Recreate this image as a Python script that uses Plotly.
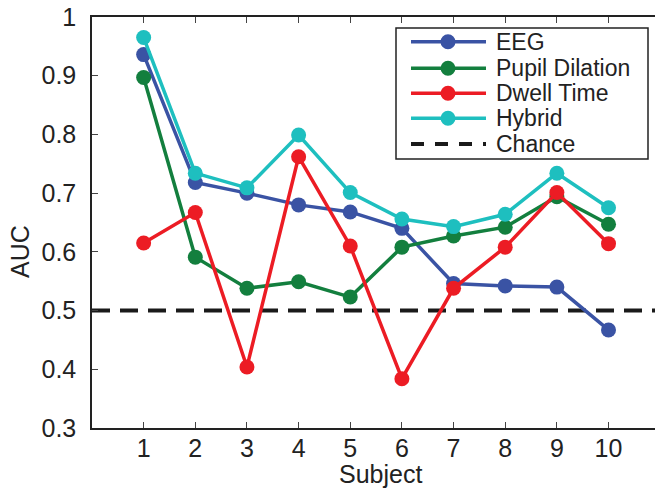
import plotly.graph_objects as go

subjects = [1, 2, 3, 4, 5, 6, 7, 8, 9, 10]
eeg = [0.936, 0.718, 0.700, 0.680, 0.668, 0.640, 0.546, 0.542, 0.540, 0.467]
pupil = [0.897, 0.591, 0.538, 0.549, 0.523, 0.608, 0.627, 0.642, 0.694, 0.647]
dwell = [0.615, 0.667, 0.404, 0.762, 0.610, 0.384, 0.538, 0.608, 0.701, 0.614]
hybrid = [0.965, 0.734, 0.709, 0.799, 0.701, 0.656, 0.643, 0.664, 0.734, 0.675]
chance = 0.5
x_range = [0, 10.9]
y_ticks = [0.3, 0.4, 0.5, 0.6, 0.7, 0.8, 0.9, 1.0]
y_ticktext = ["0.3", "0.4", "0.5", "0.6", "0.7", "0.8", "0.9", "1"]
x_title = "Subject"
y_title = "AUC"

series = [
    ("EEG", eeg, "#3A53A4"),
    ("Pupil Dilation", pupil, "#137F3E"),
    ("Dwell Time", dwell, "#EC1C24"),
    ("Hybrid", hybrid, "#1EBFBF"),
]
CHANCE_COLOR = "#1a1a1a"

FONT = "Liberation Sans, Arial, Helvetica, sans-serif"
W, H = 655, 489
ML, MR, MT, MB = 92, 0, 17, 61
PW, PH = W - ML - MR, H - MT - MB


def px(xp):
    return (xp - ML) / PW


def py(yp):
    return (H - MB - yp) / PH


fig = go.Figure()
fig.add_trace(go.Scatter(
    x=x_range, y=[chance, chance], mode="lines", name="Chance",
    line=dict(color=CHANCE_COLOR, width=4, dash="18px,10px"), showlegend=False,
))
for name, vals, col in series:
    fig.add_trace(go.Scatter(
        x=subjects, y=vals, mode="lines+markers", name=name,
        line=dict(color=col, width=3.5),
        marker=dict(color=col, size=15), showlegend=False,
    ))

# manual legend (compact row spacing as in the reference)
shapes = [dict(type="rect", xref="paper", yref="paper",
               x0=px(396), x1=px(648), y0=py(159), y1=py(28),
               line=dict(color="#222", width=1.5), fillcolor="white", layer="above")]
annotations = []
rows = [41.7, 68.3, 93.3, 118.3, 144]
entries = [(n, c, False) for n, _, c in series] + [("Chance", CHANCE_COLOR, True)]
for (name, col, dashed), ry in zip(entries, rows):
    shapes.append(dict(type="line", xref="paper", yref="paper",
                       x0=px(411), x1=px(486), y0=py(ry), y1=py(ry),
                       line=dict(color=col, width=4 if dashed else 3.5,
                                 dash="13px,11px" if dashed else "solid"),
                       layer="above"))
    if not dashed:
        shapes.append(dict(type="circle", xref="paper", yref="paper",
                           xsizemode="pixel", ysizemode="pixel",
                           xanchor=px(448), yanchor=py(ry),
                           x0=-7.5, x1=7.5, y0=-7.5, y1=7.5,
                           fillcolor=col, line=dict(color=col, width=0),
                           layer="above"))
    annotations.append(dict(xref="paper", yref="paper", x=px(494), y=py(ry),
                            xanchor="left", yanchor="middle", text=name,
                            showarrow=False, font=dict(size=23, color="#222")))

# axis titles placed as in the reference
annotations.append(dict(xref="paper", yref="paper", x=px(380), y=py(489),
                        xanchor="center", yanchor="bottom", text=x_title,
                        showarrow=False, font=dict(size=25, color="#222"),
                        borderpad=0))
annotations.append(dict(xref="paper", yref="paper", x=px(20), y=py(252),
                        xanchor="center", yanchor="middle", text=y_title,
                        textangle=-90, showarrow=False,
                        font=dict(size=25, color="#222"), borderpad=0))

fig.update_layout(
    width=W, height=H,
    margin=dict(l=ML, r=MR, t=MT, b=MB),
    paper_bgcolor="white", plot_bgcolor="white",
    font=dict(family=FONT, size=25, color="#222"),
    showlegend=False, shapes=shapes, annotations=annotations,
)
fig.update_xaxes(
    range=x_range, tickvals=subjects, ticks="inside", ticklen=6,
    showline=True, linecolor="#222", linewidth=1.5, mirror="ticks",
    showgrid=False, zeroline=False,
    tickfont=dict(size=25), ticklabelstandoff=-3,
)
fig.update_yaxes(
    range=[0.3, 1.0], tickvals=y_ticks, ticktext=y_ticktext, ticks="inside",
    ticklen=6, showline=True, linecolor="#222", linewidth=1.5, mirror=False,
    showgrid=False, zeroline=False,
    tickfont=dict(size=25), ticklabelstandoff=9,
)
fig.write_html("out.html", post_script="document.body.style.margin='0';",
               config={"displayModeBar": False})
